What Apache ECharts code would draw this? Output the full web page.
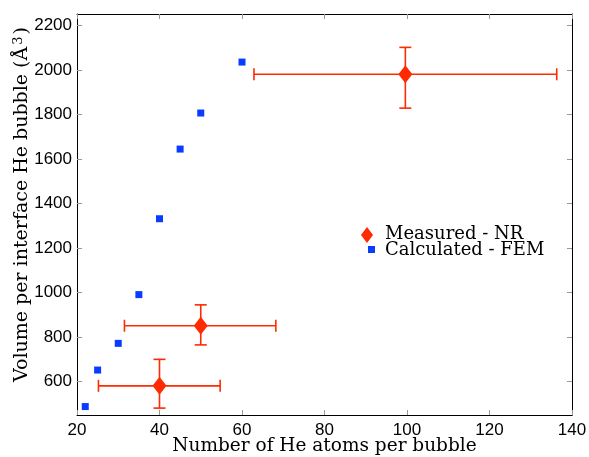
<!DOCTYPE html>
<html><head><meta charset="utf-8">
<script src="https://cdn.jsdelivr.net/npm/echarts@6/dist/echarts.min.js"></script>
<style>html,body{margin:0;padding:0;background:#fff}#c{width:589px;height:457px}</style>
</head><body><div id="c"></div>
<script>
// Calculated - FEM
const femX = [22, 25, 30, 35, 40, 45, 50, 60];
const femY = [488, 652, 772, 991, 1332, 1645, 1807, 2036];
// Measured - NR
const nrX = [40, 50, 99.6];
const nrY = [581, 851, 1981];
const nrXlo = [25.2, 31.5, 62.9];
const nrXhi = [54.7, 68.2, 136.3];
const nrYlo = [481, 765, 1829];
const nrYhi = [700, 945, 2102];
const xTicks = [20, 40, 60, 80, 100, 120, 140];
const yTicks = [600, 800, 1000, 1200, 1400, 1600, 1800, 2000, 2200];

const RED = '#ff2a00', BLUE = '#0a3cff';
const chart = echarts.init(document.getElementById('c'));
const errData = nrX.map((x, i) => [x, nrY[i], nrXlo[i], nrXhi[i], nrYlo[i], nrYhi[i]]);
const tick = {show: true, inside: true, length: 5, lineStyle: {color: '#999'}};
const line = {show: true, lineStyle: {color: '#000', width: 1}};
const serif = 'DejaVu Serif';
chart.setOption({
  animation: false,
  grid: {left: 77, top: 14, right: 17, bottom: 42, containLabel: false, outerBoundsMode: 'none'},
  xAxis: [
    {type: 'value', min: 20, max: 140, interval: 20,
      name: 'Number of He atoms per bubble', nameLocation: 'middle', nameGap: 22, nameMoveOverlap: false,
      nameTextStyle: {fontFamily: serif, fontSize: 18.5, color: '#000'},
      axisLine: line, axisTick: Object.assign({customValues: xTicks}, tick), splitLine: {show: false},
      axisLabel: {fontFamily: 'Liberation Sans', fontSize: 17, color: '#000', margin: 7, customValues: xTicks}},
    {type: 'value', position: 'top', min: 20, max: 140, interval: 20,
      axisLine: line, axisTick: Object.assign({customValues: xTicks}, tick), splitLine: {show: false},
      axisLabel: {show: false}}
  ],
  yAxis: [
    {type: 'value', min: 450, max: 2252,
      name: '{t|Volume per interface He bubble (Å}{s|3}{t|)}', nameLocation: 'middle', nameGap: 44, nameMoveOverlap: false,
      nameTextStyle: {color: '#000', padding: [0, 0, 0, 20],
        rich: {t: {fontFamily: serif, fontSize: 19, color: '#000'},
               s: {fontFamily: serif, fontSize: 13, color: '#000', verticalAlign: 'top', padding: [0, 2, 8, 2]}}},
      axisLine: line, axisTick: Object.assign({customValues: yTicks}, tick), splitLine: {show: false},
      axisLabel: {fontFamily: 'Liberation Sans', fontSize: 17, color: '#000', margin: 5,
        customValues: yTicks, formatter: v => String(v)}},
    {type: 'value', position: 'right', min: 450, max: 2252,
      axisLine: line, axisTick: Object.assign({customValues: yTicks}, tick), splitLine: {show: false},
      axisLabel: {show: false}}
  ],
  graphic: [
    {type: 'polygon', shape: {points: [[367, 227], [373, 235], [367, 243], [361, 235]]}, style: {fill: RED}},
    {type: 'text', x: 385, y: 234, style: {text: 'Measured - NR', font: '18px "DejaVu Serif"', fill: '#000', textVerticalAlign: 'middle'}},
    {type: 'rect', shape: {x: 368, y: 246, width: 7, height: 7}, style: {fill: BLUE}},
    {type: 'text', x: 385, y: 250, style: {text: 'Calculated - FEM', font: '18px "DejaVu Serif"', fill: '#000', textVerticalAlign: 'middle'}}
  ],
  series: [
    {type: 'custom', name: 'Measured - NR', coordinateSystem: 'cartesian2d', z: 3,
      itemStyle: {color: RED},
      data: errData, encode: {x: 0, y: 1},
      renderItem: function (params, api) {
        const c = api.coord([api.value(0), api.value(1)]);
        const xl = api.coord([api.value(2), api.value(1)]);
        const xh = api.coord([api.value(3), api.value(1)]);
        const yl = api.coord([api.value(0), api.value(4)]);
        const yh = api.coord([api.value(0), api.value(5)]);
        const st = {stroke: RED, lineWidth: 1.6};
        const cap = 6, capH = 6;
        return {type: 'group', children: [
          {type: 'line', shape: {x1: xl[0], y1: c[1], x2: xh[0], y2: c[1]}, style: st},
          {type: 'line', shape: {x1: xl[0], y1: c[1] - cap, x2: xl[0], y2: c[1] + cap}, style: st},
          {type: 'line', shape: {x1: xh[0], y1: c[1] - cap, x2: xh[0], y2: c[1] + cap}, style: st},
          {type: 'line', shape: {x1: c[0], y1: yl[1], x2: c[0], y2: yh[1]}, style: st},
          {type: 'line', shape: {x1: c[0] - capH, y1: yl[1], x2: c[0] + capH, y2: yl[1]}, style: st},
          {type: 'line', shape: {x1: c[0] - capH, y1: yh[1], x2: c[0] + capH, y2: yh[1]}, style: st}
        ]};
      }},
    {type: 'scatter', name: 'Measured - NR', symbol: 'diamond', symbolSize: [14, 18], z: 4,
      itemStyle: {color: RED, opacity: 1}, data: nrX.map((x, i) => [x, nrY[i]])},
    {type: 'scatter', name: 'Calculated - FEM', symbol: 'rect', symbolSize: 7, z: 4,
      itemStyle: {color: BLUE, opacity: 1}, data: femX.map((x, i) => [x, femY[i]])}
  ]
});
</script></body></html>
